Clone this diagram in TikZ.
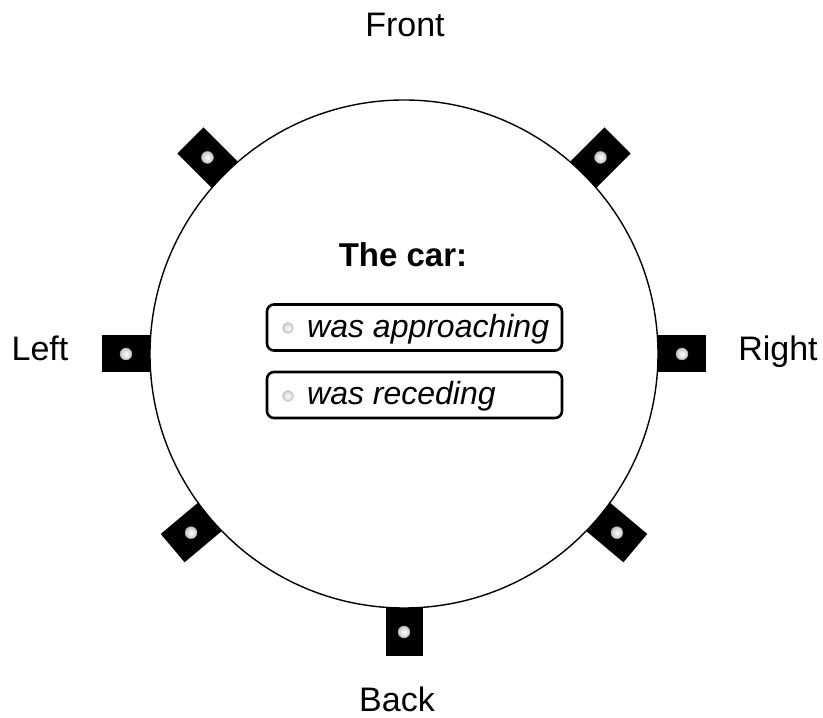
\documentclass[tikz,border=0pt]{standalone}
\usepackage{fontspec}
\setmainfont{Liberation Sans}
\tikzset{
  speaker/.style={fill=black, inner sep=0pt, minimum width=48pt, minimum height=37pt},
  cone/.style={circle, inner sep=0pt, minimum size=12pt, draw=gray!70, inner color=white, outer color=gray!45},
  radio/.style={circle, inner sep=0pt, minimum size=11pt, draw=gray!60, inner color=white, outer color=gray!40},
  option/.style={draw, line width=2.6pt, rounded corners=7pt, minimum width=295pt, minimum height=46pt},
  side/.style={font=\fontsize{34}{40}\selectfont, anchor=base},
  answer/.style={font=\fontsize{32}{38}\selectfont\itshape, anchor=base west, inner sep=0pt}
}
\begin{document}
\begin{tikzpicture}[x=1pt, y=1pt]
  \useasboundingbox (0,0) rectangle (823,718);
  \node[draw, circle, line width=1.4pt, minimum size=508pt, inner sep=0pt] (car) at (404,364) {};
  \begin{scope}[shift={(404,364)}]
    \draw
      (0:278) node[speaker, rotate=0] (sR){}
      (45:278) node[speaker, rotate=45] (sFR){}
      (135:278) node[speaker, rotate=135] (sFL){}
      (180:278) node[speaker, rotate=180] (sL){}
      (220:278) node[speaker, rotate=220] (sBL){}
      (270:278) node[speaker, rotate=270] (sB){}
      (320:278) node[speaker, rotate=320] (sBR){};
    \node[cone] (cR) at (sR) {};
    \node[cone] (cFR) at (sFR) {};
    \node[cone] (cFL) at (sFL) {};
    \node[cone] (cL) at (sL) {};
    \node[cone] (cBL) at (sBL) {};
    \node[cone] (cB) at (sB) {};
    \node[cone] (cBR) at (sBR) {};
  \end{scope}
  \node[side] (front) at (405,681) {Front};
  \node[side] (back) at (397,6) {Back};
  \node[side] (left) at (40,357) {Left};
  \node[side] (right) at (778,357) {Right};
  \node[font=\fontsize{33}{40}\selectfont\bfseries, anchor=base] (title) at (403,451) {The car:};
  \node[option] (opt1) at (414.5,390.5) {};
  \node[option] (opt2) at (414.5,323) {};
  \node[radio] (r1) at (288,390) {};
  \node[radio] (r2) at (288,322) {};
  \node[answer] (a1) at (307,380) {was approaching};
  \node[answer] (a2) at (307,313) {was receding};
\end{tikzpicture}
\end{document}
